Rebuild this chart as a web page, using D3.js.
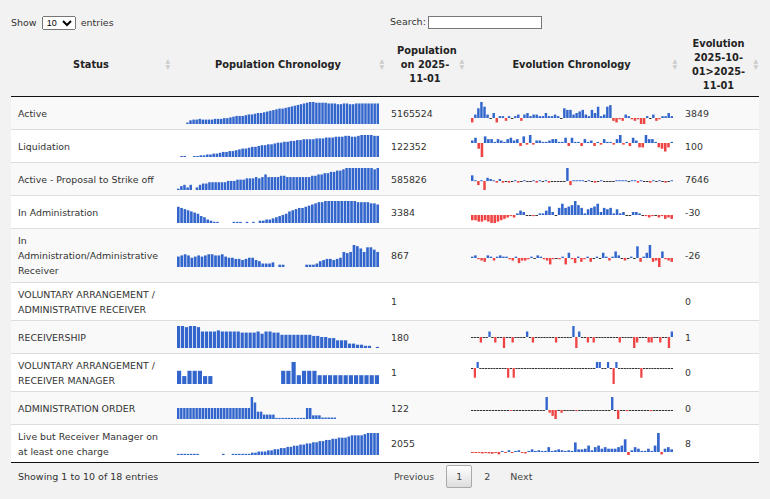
<!DOCTYPE html>
<html><head><meta charset="utf-8">
<script src="https://cdn.jsdelivr.net/npm/d3@7"></script>
<style>
body{margin:0;background:#f2f2f2;font-family:"DejaVu Sans",Verdana,sans-serif;font-size:9.4px;color:#333;width:770px;height:499px;overflow:hidden;position:relative}
.top{position:absolute;top:16px;left:11px;font-size:9.5px}
.top select{font-size:9px;height:14px;padding:0;margin:0 2px;width:34px}
.search{position:absolute;top:16px;left:390px;font-size:9.5px}
.search input{width:108px;height:9px;border:1px solid #777;vertical-align:middle;margin-left:2px}
table{position:absolute;left:11px;top:34px;width:748px;border-collapse:collapse;table-layout:fixed}
th{font-weight:bold;text-align:center;font-size:9.8px;line-height:14px;position:relative;padding:0 8px;height:62px;border-bottom:1px solid #111;color:#222}
th .s{position:absolute;right:1px;top:24px;color:#ccc;font-size:6px;line-height:6px}
td{padding:0 7px;vertical-align:middle;border-top:1px solid #ddd;line-height:15px;overflow:hidden}
tr.odd td{background:#f9f9f9}
tr.even td{background:#fff}
tbody tr:last-child td{border-bottom:1px solid #111}
td svg{display:block}
.foot{position:absolute;top:471px;left:18px;font-size:9.5px}
.pag{position:absolute;top:465px;left:384px;font-size:9.5px}
.pag span{display:inline-block;padding:6px 10px;color:#444}
.pag .cur{border:1px solid #aaa;background:linear-gradient(#fff,#ddd);border-radius:2px;padding:5px 9px;margin:0 2px}
</style></head><body>
<div class="top">Show <select><option>10</option></select> entries</div>
<div class="search">Search:<input></div>
<table id="t"></table>
<div class="foot">Showing 1 to 10 of 18 entries</div>
<div class="pag"><span>Previous</span><span class="cur">1</span><span>2</span><span>Next</span></div>
<script>
const statuses = ["Active","Liquidation","Active - Proposal to Strike off","In Administration","In Administration/Administrative Receiver","VOLUNTARY ARRANGEMENT / ADMINISTRATIVE RECEIVER","RECEIVERSHIP","VOLUNTARY ARRANGEMENT / RECEIVER MANAGER","ADMINISTRATION ORDER","Live but Receiver Manager on at least one charge"];
const populations = [5165524,122352,585826,3384,867,1,180,1,122,2055];
const evolutions = [3849,100,7646,-30,-26,0,1,0,0,8];
const heights = [33,33,33,33,54,38,33,38,33,38];

const popActive = [0,0,0,2,5,6,6,7,6,6,6,6,7,7,7,8,8,9,10,11,11,11,12,13,13,14,15,15,16,17,18,19,20,21,21,22,23,24,25,26,27,28,29,30,30,29,29,29,29,28,28,28,27,27,28,28,27,27,28,28,28,28,28,28,28,28];
const popLiquidation = [0,1,1,0,0,1,1,2,2,3,3,4,4,5,6,6,7,7,8,9,10,10,11,12,12,13,14,14,15,15,16,17,17,18,18,19,19,20,20,21,21,21,21,22,22,22,23,23,23,24,24,24,25,25,24,24,25,26,26,26,26,25,25];
const popProposal = [1,3,4,2,4,0,2,4,5,5,6,6,6,6,6,6,7,7,7,8,8,8,9,9,9,10,9,10,12,10,10,10,10,11,11,10,10,10,10,10,10,10,10,11,11,12,12,13,13,14,14,15,15,16,17,17,17,17,17,17,17,17,17,16,17];
const popAdmin = [14,13,12,11,10,9,8,6,5,3,2,1,1,0,0,0,0,1,1,1,0,1,0,1,0,2,2,3,3,4,5,6,7,8,10,11,12,13,13,14,15,16,17,18,18,19,19,19,19,19,19,19,19,19,19,18,18,18,18,17,17,16];
const popAdminRec = [9,10,11,10,8,9,10,9,10,11,11,10,10,11,9,8,8,7,7,6,7,8,8,6,5,3,3,3,4,0,2,2,0,0,0,0,0,0,2,2,2,3,5,6,7,7,6,7,8,13,12,13,19,18,16,13,17,17,15,13];
const popVaAdminRec = [];
const popReceivership = [20,20,19,20,20,19,15,15,15,15,16,15,15,15,15,15,14,14,14,14,15,13,15,15,14,14,12,12,12,12,12,12,12,12,11,11,10,10,9,9,7,7,7,4,4,3,3,2,2,0,1];
const popVaRecMgr = [3,1.8,3,3,3,1.8,1.8,0,0,0,0,0,0,0,0,0,0,0,0,0,3,3,5,2,3,3,3,2,2,2,2,2,2,2,2,2,2,2,2];
const popAdminOrder = [3,3,3,3,3,3,3,3,3,3,3,3,3,3,3,3,3,3,3,3,3,3,3,3,6,4.5,2,2,1.2,1.2,1.2,1.2,0.3,0.3,0.3,0.3,0.3,0.3,0.3,0.3,0.3,0.3,3,3,1,1,1,0.4,0.4,0.4,0.4,0.4,0,0,0,0,0,0,0,0,0,0,0,0,0,0];
const popLiveRM = [1,1,1,1,1,1,1,0,0,0,0,0,0,0,1,0,0,1,1,1,1,1,1,2,2,3,3,3,4,4,5,5,6,6,7,7,8,8,9,9,10,10,11,11,12,12,13,13,14,14,15,15,15,16,17,17,17,17,18,19,19,19,19];

const evoActive = [-3,2,6,10,7,2,0,3,-3,1,1,-2,1,0,1,2,-2,2,3,1,2,2,1,1,3,1,1,2,1,0,6,5,5,2,3,4,5,2,1,5,3,7,1,2,7,8,-2,-3,-1,-2,2,1,-1,-2,-1,-4,-4,1,0,2,-2,-1,1,1,3,1];
const evoLiquidation = [2,4,-4,-10,5,3,3,1,3,2,1,3,4,2,3,-2,5,-1,6,-1,2,2,1,1,2,3,3,1,1,4,-2,4,1,1,-2,3,1,2,-2,1,-1,3,1,1,-1,3,6,-1,1,-2,4,2,-3,-3,6,3,3,1,-3,-4,-6,-3,1];
const evoProposal = [5,1,-3,1,-7,3,2,1,-1,2,-1,0,-1,0,1,-1,0,1,0,0,1,-1,1,0,1,-1,0,0,0,0,0,11,-3,1,1,1,1,0,1,0,-1,0,1,0,0,0,0,1,1,1,1,0,1,1,-1,1,0,0,-1,1,0,1,0,-1,0,1];
const evoAdmin = [-4,-4,-5,-5,-4,-5,-6,-6,-5,-4,-3,-2,-1,-2,1,3,2,0,0,-1,0,1,1,3,6,2,0,5,8,5,6,7,10,7,5,1,4,5,6,8,2,5,4,5,1,4,1,2,0,0,2,2,1,0,-1,-2,-1,0,-2,-1,-3,-2,-3];
const evoAdminRec = [1,2,-1,-2,-3,2,1,-2,1,2,1,1,-1,-2,1,-4,-2,-2,-1,1,0,2,1,-1,-2,-5,-1,0,-1,1,-5,4,-1,-4,1,-3,-1,1,-3,0,1,0,4,1,-2,1,5,2,0,-2,0,1,0,9,-3,1,4,10,-3,-2,-7,5,-1,-2,-3];
const evoVaAdminRec = [];
const evoReceivership = [0,0,0,-2,0,0,2,0,-2,0,0,-4,0,0,-2,0,0,0,0,2,0,-2,0,0,0,0,0,0,0,-2,0,0,0,0,0,4,-4,2,0,0,-2,0,-2,0,0,0,0,0,0,0,0,-2,0,0,0,0,-4,-2,0,0,0,-2,-2,0,0,-2,0,0,-4,2];
const evoVaRecMgr = [0,-3,2,0,0,0,0,0,0,0,0,0,0,-3,0,-3,0,0,0,0,0,0,0,0,0,0,0,0,0,0,0,0,0,0,0,0,0,0,0,0,0,0,0,0,0,2,2,0,0,2,0,-5,2,0,0,0,0,0,0,0,0,-3,0,0,0,0,0,0,0,0,0,0,0];
const evoAdminOrder = [0,0,0,0,0,0,0,0,0,0,0,0,0,-0.3,0,0,0,0,0,0,0,0,0,0,0,4,-1,-2,-3,0,-1,0,0,0,0,-0.5,0,0,0,0,0,0,0,0,0,0,0,4,0,-3,0,0,-0.5,0,0,0,0,0,0,0,-0.5,0,0,0,0,0,0,0];
const evoLiveRM = [-0.3,-0.3,-0.3,-0.5,-0.3,-0.5,-0.6,-0.3,-0.8,0.3,-0.3,0.5,-0.3,0.3,0.5,-0.3,-0.5,0.3,0.8,0.3,0.5,0.3,0.3,1.5,0.3,0.5,0.8,0.5,0.3,0.5,0.3,3,0.8,0.8,1,2,0.5,1.5,2,1,1.5,1,1,1,1.5,2,4,-1,0.5,1.5,1,0.3,0.3,1,0.3,2,6,-0.8,1,1.5,0.8];

const popSeries = [popActive,popLiquidation,popProposal,popAdmin,popAdminRec,popVaAdminRec,popReceivership,popVaRecMgr,popAdminOrder,popLiveRM];
const evoSeries = [evoActive,evoLiquidation,evoProposal,evoAdmin,evoAdminRec,evoVaAdminRec,evoReceivership,evoVaRecMgr,evoAdminOrder,evoLiveRM];

const headers = ["Status","Population Chronology","Population on 2025-11-01","Evolution Chronology","Evolution 2025-10-01>2025-11-01"];
const colWidths = [160,214,80,213,81];
const SW = 202, SH = 22;

const table = d3.select("#t");
table.append("colgroup").selectAll("col").data(colWidths).join("col").style("width", d => d + "px");
const th = table.append("thead").append("tr").selectAll("th").data(headers).join("th");
th.append("span").style("display","inline-block").style("max-width", (d,i) => i===2 ? "56px" : i===4 ? "64px" : null).text(d => d);
th.append("span").attr("class","s").html("&#9650;<br>&#9660;");

const rows = table.append("tbody").selectAll("tr").data(statuses).join("tr")
  .attr("class", (d,i) => i % 2 ? "even" : "odd")
  .style("height", (d,i) => heights[i] + "px");

rows.append("td").style("padding","0 4px 0 7px").text(d => d);

function popChart(td, data) {
  const svg = td.append("svg").attr("width", SW).attr("height", SH);
  if (!data.length) return;
  const x = d3.scaleBand().domain(d3.range(data.length)).range([0, SW]).paddingInner(0.2);
  const y = d3.scaleLinear().domain([0, d3.max(data)]).range([SH, 0]);
  svg.selectAll("rect").data(data.map((v,i)=>({v,i})).filter(d => d.v > 0)).join("rect")
    .attr("x", d => x(d.i)).attr("width", x.bandwidth())
    .attr("y", d => Math.min(y(d.v), SH - 1)).attr("height", d => Math.max(SH - y(d.v), 1))
    .attr("fill", "#3366cc");
}
function evoChart(td, data) {
  const svg = td.append("svg").attr("width", SW).attr("height", SH);
  if (!data.length) return;
  const x = d3.scaleBand().domain(d3.range(data.length)).range([0, SW]).paddingInner(0.2);
  const y = d3.scaleLinear().domain([Math.min(0, d3.min(data)), Math.max(0, d3.max(data))]).range([SH, 0]);
  const z = Math.round(y(0));
  svg.selectAll("rect").data(data.map((v,i)=>({v,i}))).join("rect")
    .attr("x", d => x(d.i)).attr("width", x.bandwidth())
    .attr("y", d => d.v > 0 ? y(d.v) : z)
    .attr("height", d => d.v === 0 ? 1 : Math.max(Math.abs(y(d.v) - z), 1))
    .attr("fill", d => d.v > 0 ? "#3366cc" : d.v < 0 ? "#ee4444" : "#333");
}

rows.append("td").style("padding","0 0 0 6px").each(function(d,i){ popChart(d3.select(this), popSeries[i]); });
rows.append("td").style("padding-left","6px").text((d,i) => populations[i]);
rows.append("td").style("padding","0 0 0 6px").each(function(d,i){ evoChart(d3.select(this), evoSeries[i]); });
rows.append("td").style("padding-left","7px").text((d,i) => evolutions[i]);
</script>
</body></html>
